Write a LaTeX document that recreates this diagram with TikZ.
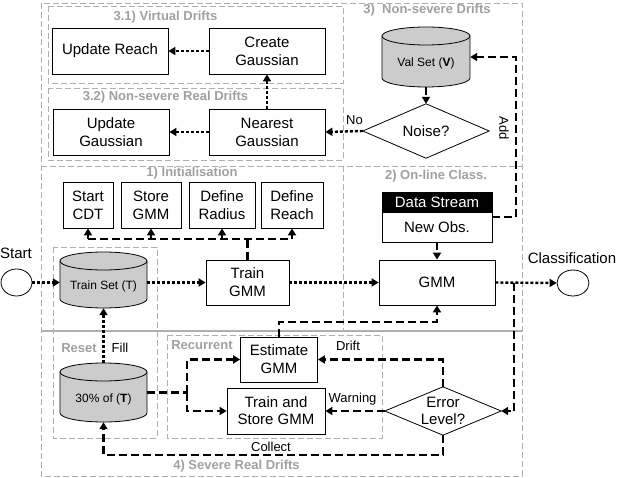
\documentclass[tikz,border=0pt]{standalone}
\usepackage{fontspec}
\setmainfont{Liberation Sans}
\usetikzlibrary{arrows.meta,shapes.geometric}
\definecolor{lblgray}{RGB}{160,160,160}
\definecolor{framegray}{RGB}{175,175,175}
\definecolor{cylfill}{RGB}{204,204,204}
\begin{document}
\begin{tikzpicture}[x=1pt,y=-1pt,
  box/.style={draw,line width=0.8pt,inner sep=0pt,align=center,font=\fontsize{15}{18}\selectfont},
  lbl/.style={text=lblgray,font=\fontsize{13}{15}\selectfont\bfseries,inner sep=0pt},
  elab/.style={font=\fontsize{13}{15}\selectfont,inner sep=0pt},
  big/.style={font=\fontsize{15}{17}\selectfont,inner sep=0pt},
  cyltext/.style={inner sep=0pt,font=\fontsize{12}{14}\selectfont,text height=22pt,text depth=2pt},
  frame/.style={draw=framegray,line width=0.8pt,dash pattern=on 6pt off 3pt},
  dotc/.style={line width=2.4pt,dash pattern=on 3pt off 2pt},
  dshc/.style={line width=2.4pt,dash pattern=on 8pt off 4pt},
  tip/.style={-{Triangle[length=7pt,width=8pt]}},
  outl/.style={line width=0.8pt},
]
\useasboundingbox (0,0) rectangle (618,478);

% frames
\draw[frame] (41,3) rectangle (522,476);
\draw[frame] (41,166) -- (522,166);
\draw[draw=framegray,line width=1.6pt] (41,331) -- (522,331);
\draw[frame] (343,166) -- (343,331);
\draw[frame] (48,6) rectangle (343,83);
\draw[frame] (48,88) rectangle (343,160);
\draw[frame] (53,247) rectangle (157,438);
\draw[frame] (167,335) rectangle (382,438);

% frame labels
\node[lbl] (l31) at (165.5,17) {3.1) Virtual Drifts};
\node[lbl] (l32) at (165.5,97) {3.2) Non-severe Real Drifts};
\node[lbl] (l3) at (427,10) {3)\ \ Non-severe Drifts};
\node[lbl] (l1) at (192,173) {1) Initialisation};
\node[lbl] (l2) at (436,176) {2) On-line Class.};
\node[lbl] (lreset) at (79,348) {Reset};
\node[lbl] (lrec) at (202,345) {Recurrent};
\node[lbl] (l4) at (236.5,466) {4) Severe Real Drifts};

% boxes
\node[box,minimum width=116pt,minimum height=46pt] (ureach) at (110,51) {Update Reach};
\node[box,minimum width=116pt,minimum height=46pt] (cgauss) at (267,51) {Create\\Gaussian};
\node[box,minimum width=116pt,minimum height=46pt] (ugauss) at (111,132) {Update\\Gaussian};
\node[box,minimum width=116pt,minimum height=46pt] (ngauss) at (267,132) {Nearest\\Gaussian};

\node[box,minimum width=50pt,minimum height=46pt] (cdt) at (88,205) {Start\\CDT};
\node[box,minimum width=60pt,minimum height=46pt] (sgmm) at (151,205) {Store\\GMM};
\node[box,minimum width=66pt,minimum height=46pt] (drad) at (222,205) {Define\\Radius};
\node[box,minimum width=62pt,minimum height=46pt] (dreach) at (292,205) {Define\\Reach};

\node[box,minimum width=83pt,minimum height=45pt] (tgmm) at (247.5,282.5) {Train\\GMM};
\node[box,minimum width=116pt,minimum height=45pt] (gmm) at (437,282.5) {GMM};
\node[box,fill=black,text=white,minimum width=110pt,minimum height=20pt] (ds) at (437,202) {Data Stream};
\node[box,minimum width=110pt,minimum height=30pt] (nobs) at (437,227) {New Obs.};

\node[box,minimum width=77pt,minimum height=45pt] (est) at (279,359.5) {Estimate\\GMM};
\node[box,minimum width=98pt,minimum height=46pt,font=\fontsize{15}{17}\selectfont] (tsg) at (276,411) {Train and\\Store GMM};

% cylinders
\fill[cylfill] (382,36) rectangle (470,78);
\fill[cylfill] (426,78) ellipse [x radius=44pt, y radius=9pt];
\draw[outl] (382,36) -- (382,78) arc [start angle=180, end angle=360, x radius=44pt, y radius=9pt] -- (470,36);
\draw[outl,fill=cylfill] (426,36) ellipse [x radius=44pt, y radius=9pt];
\node[cyltext,minimum width=88pt,minimum height=60pt] (val) at (426,57) {Val Set (\textbf{V})};

\fill[cylfill] (60,261) rectangle (147,299);
\fill[cylfill] (103.5,299) ellipse [x radius=43.5pt, y radius=9pt];
\draw[outl] (60,261) -- (60,299) arc [start angle=180, end angle=360, x radius=43.5pt, y radius=9pt] -- (147,261);
\draw[outl,fill=cylfill] (103.5,261) ellipse [x radius=43.5pt, y radius=9pt];
\node[cyltext,minimum width=87pt,minimum height=56pt] (trainset) at (103.5,280) {Train Set (T)};

\fill[cylfill] (60,372) rectangle (147,413);
\fill[cylfill] (103.5,413) ellipse [x radius=43.5pt, y radius=9pt];
\draw[outl] (60,372) -- (60,413) arc [start angle=180, end angle=360, x radius=43.5pt, y radius=9pt] -- (147,372);
\draw[outl,fill=cylfill] (103.5,372) ellipse [x radius=43.5pt, y radius=9pt];
\node[cyltext,minimum width=87pt,minimum height=59pt] (p30) at (103.5,392.5) {30\% of (\textbf{T})};

% diamonds
\node[big,minimum width=126pt,minimum height=54pt] (noise) at (426,131) {Noise?};
\draw[outl] (noise.north) -- (noise.east) -- (noise.south) -- (noise.west) -- cycle;
\node[big,align=center,minimum width=116pt,minimum height=48pt] (err) at (443,411) {Error\\Level?};
\draw[outl] (err.north) -- (err.east) -- (err.south) -- (err.west) -- cycle;

% terminals
\node[draw,outl,ellipse,inner sep=0pt,minimum width=31pt,minimum height=27pt] (start) at (16.5,282.5) {};
\node[draw,outl,ellipse,inner sep=0pt,minimum width=32pt,minimum height=26pt] (cls) at (573,283) {};
\node[big] (tstart) at (16,253) {Start};
\node[big] (tcls) at (572,258) {Classification};

% main flow (dotted)
\draw[dotc,tip] (start.east) -- (start.east -| trainset.west);
\draw[dotc,tip] (tgmm.west -| trainset.east) -- (tgmm.west);
\draw[dotc,tip] (tgmm.east) -- (gmm.west);
\draw[dotc,tip] (gmm.east) -- (cls.west);

% non-severe drifts
\draw[dshc,tip] (val.south) -- (noise.north);
\draw[dotc,tip] (noise.west) -- (ngauss.east);
\node[elab,anchor=west] (lno) at (346,120) {No};
\draw[dotc,tip] (ngauss.north) -- (cgauss.south);
\draw[dotc,tip] (cgauss.west) -- (ureach.east);
\draw[dotc,tip] (ngauss.west) -- (ugauss.east);

% add to validation set
\coordinate (addc) at (516,57);
\draw[dshc,tip] ([yshift=10pt]nobs.east) -| (addc) -- (val.east);
\node[elab,rotate=-90] (ladd) at (504,128) {Add};

% initialisation bus
\coordinate (bus) at (247.5,239);
\draw[dshc] (tgmm.north) -- (bus);
\draw[dshc] (cdt.south |- bus) -- (dreach.south |- bus);
\draw[dshc,tip] (cdt.south |- bus) -- (cdt.south);
\draw[dshc,tip] (sgmm.south |- bus) -- (sgmm.south);
\draw[dshc,tip] (drad.south |- bus) -- (drad.south);
\draw[dshc,tip] (dreach.south |- bus) -- (dreach.south);

% online
\draw[dshc,tip] (nobs.south) -- (gmm.north);
\coordinate (br) at (514,282.5);
\draw[dshc,tip] (br) |- (err.east);

% severe drifts
\coordinate (egm) at (279,322);
\draw[dshc,tip] (est.north) -- (egm) -| (gmm.south);
\coordinate (fork) at (187,392.5);
\draw[dshc] (p30.east) -- (fork);
\draw[dshc,tip] (fork) |- (est.west);
\draw[dshc,tip] (fork) |- (tsg.west);
\draw[dshc,tip] (err.north) |- (est.east);
\node[elab] (ldrift) at (348,346) {Drift};
\draw[dshc,tip] (err.west) -- (tsg.east);
\node[elab] (lwarn) at (352.5,399) {Warning};
\coordinate (col) at (443,455);
\draw[dshc,tip] (err.south) -- (col) -| (p30.south);
\node[elab] (lcol) at (271,447) {Collect};
\draw[dotc,tip] (p30.north) -- (trainset.south);
\node[elab] (lfill) at (120,348) {Fill};
\end{tikzpicture}
\end{document}
